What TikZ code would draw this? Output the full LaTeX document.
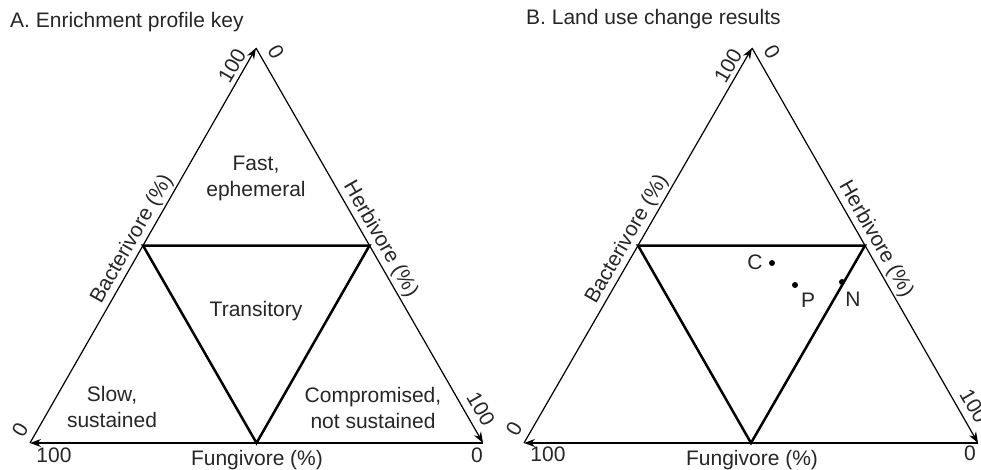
\documentclass[tikz,border=0pt]{standalone}
\usepackage{fontspec}
\setmainfont{Liberation Sans}
\usetikzlibrary{arrows.meta,calc}
\begin{document}
\begin{tikzpicture}[x=1pt,y=-1pt,
  side/.style={line width=1.2pt,-{Stealth[length=11pt,width=8pt]}},
  innertri/.style={line width=2.5pt, line join=miter},
  lbl/.style={font=\fontsize{21}{26}\selectfont, inner sep=0pt, text=black!85},
  region/.style={lbl, align=center},
  dot/.style={circle, fill=black, inner sep=0pt, minimum size=6pt}]
\useasboundingbox (0,0) rectangle (981,470);

% ---------- Panel A ----------
\coordinate (At) at (256,48);
\coordinate (Al) at (30,443);
\coordinate (Ar) at (483,443);
\coordinate (Aml) at ($(Al)!0.5!(At)$);
\coordinate (Amr) at ($(Ar)!0.5!(At)$);
\coordinate (Amb) at ($(Al)!0.5!(Ar)$);
\draw[side] (Al) -- (At) node[lbl, midway, sloped, above=2pt] (AbacL) {Bacterivore (\%)};
\draw[side] (At) -- (Ar) node[lbl, midway, sloped, above=2pt] (AherL) {Herbivore (\%)};
\draw[side] (Ar) -- (Al);
\draw[innertri] (Aml) -- (Amr) -- (Amb) -- cycle;
\node[lbl] (AfunL) at (257,460) {Fungivore (\%)};

\node[lbl, rotate=60] (At100) at ($(At)+(-24,18)$) {100};
\node[lbl, rotate=-60] (At0) at ($(At)+(20,4)$) {0};
\node[lbl, rotate=60] (Al0) at ($(Al)+(-10,-13)$) {0};
\node[lbl] (Al100) at ($(Al)+(24,12)$) {100};
\node[lbl, rotate=-60] (Ar100) at ($(Ar)+(-2,-34)$) {100};
\node[lbl] (Ar0) at ($(Ar)+(-6,12)$) {0};

\node[region] (fast) at (256,178) {Fast,\\ephemeral};
\node[region] (trans) at (256,311) {Transitory};
\node[region] (slow) at (112,407) {Slow,\\sustained};
\node[region] (comp) at (373,408) {Compromised,\\not sustained};

\node[lbl, anchor=west] (titleA) at (10,22) {A. Enrichment profile key};

% ---------- Panel B ----------
\coordinate (Bt) at (752,48);
\coordinate (Bl) at (524,443);
\coordinate (Br) at (978,443);
\coordinate (Bml) at ($(Bl)!0.5!(Bt)$);
\coordinate (Bmr) at ($(Br)!0.5!(Bt)$);
\coordinate (Bmb) at ($(Bl)!0.5!(Br)$);
\draw[side] (Bl) -- (Bt) node[lbl, midway, sloped, above=2pt] (BbacL) {Bacterivore (\%)};
\draw[side] (Bt) -- (Br) node[lbl, midway, sloped, above=2pt] (BherL) {Herbivore (\%)};
\draw[side] (Br) -- (Bl);
\draw[innertri] (Bml) -- (Bmr) -- (Bmb) -- cycle;
\node[lbl] (BfunL) at (752,460) {Fungivore (\%)};

\node[lbl, rotate=60] (Bt100) at ($(Bt)+(-24,18)$) {100};
\node[lbl, rotate=-60] (Bt0) at ($(Bt)+(20,4)$) {0};
\node[lbl, rotate=60] (Bl0) at ($(Bl)+(-10,-14)$) {0};
\node[lbl] (Bl100) at ($(Bl)+(24,11)$) {100};
\node[lbl, rotate=-60] (Br100) at ($(Br)+(-4,-37)$) {100};
\node[lbl] (Br0) at ($(Br)+(-8,10)$) {0};

\node[dot] (C) at (772,263) {};
\node[lbl] (Clab) at (755,262) {C};
\node[dot] (P) at (795,285) {};
\node[lbl] (Plab) at (808,300) {P};
\node[dot] (N) at (842,282) {};
\node[lbl] (Nlab) at (853,299) {N};

\node[lbl, anchor=west] (titleB) at (526,19) {B. Land use change results};
\end{tikzpicture}
\end{document}
